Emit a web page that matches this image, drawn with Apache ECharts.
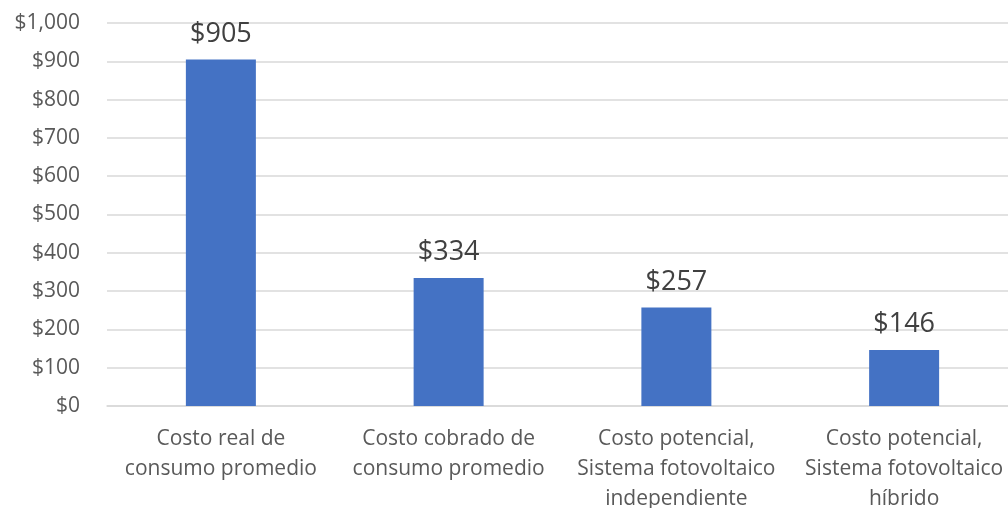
<!DOCTYPE html>
<html>
<head>
<meta charset="utf-8">
<script src="https://cdn.jsdelivr.net/npm/echarts@6/dist/echarts.min.js"></script>
<style>
  html, body { margin: 0; padding: 0; background: #fff; }
  #chart { width: 1008px; height: 508px; }
</style>
</head>
<body>
<div id="chart"></div>
<script>
const categories = [
  'Costo real de\nconsumo promedio',
  'Costo cobrado de\nconsumo promedio',
  'Costo potencial,\nSistema fotovoltaico\nindependiente',
  'Costo potencial,\nSistema fotovoltaico\nhíbrido'
]
const costValues = [905, 334, 257, 146]

const fontFamily = '"Open Sans", Lato, sans-serif'
const formatMoney = (v) => '$' + Number(v).toLocaleString('en-US')

const chart = echarts.init(document.getElementById('chart'))
chart.setOption({
  animation: false,
  grid: {
    left: 107, right: -10, top: 23, bottom: 102,
    containLabel: false,
    outerBoundsMode: 'none'
  },
  xAxis: {
    type: 'category',
    data: categories,
    axisLine: { show: true, lineStyle: { color: '#d9d9d9', width: 1.5 } },
    axisTick: { show: false },
    axisLabel: {
      color: '#595959',
      fontSize: 21,
      fontFamily,
      lineHeight: 30,
      margin: 18,
      interval: 0
    }
  },
  yAxis: {
    type: 'value',
    min: 0,
    max: 1000,
    interval: 100,
    axisLine: { show: false },
    axisTick: { show: false },
    splitLine: { lineStyle: { color: '#d9d9d9', width: 1.5 } },
    axisLabel: {
      color: '#595959',
      fontSize: 21,
      fontFamily,
      margin: 27,
      formatter: formatMoney
    }
  },
  series: [{
    type: 'bar',
    data: costValues,
    barWidth: 70,
    itemStyle: { color: '#4472c4' },
    label: {
      show: true,
      position: 'top',
      distance: 12,
      color: '#404040',
      fontSize: 27,
      fontFamily,
      formatter: (p) => formatMoney(p.value)
    }
  }]
})
</script>
</body>
</html>
